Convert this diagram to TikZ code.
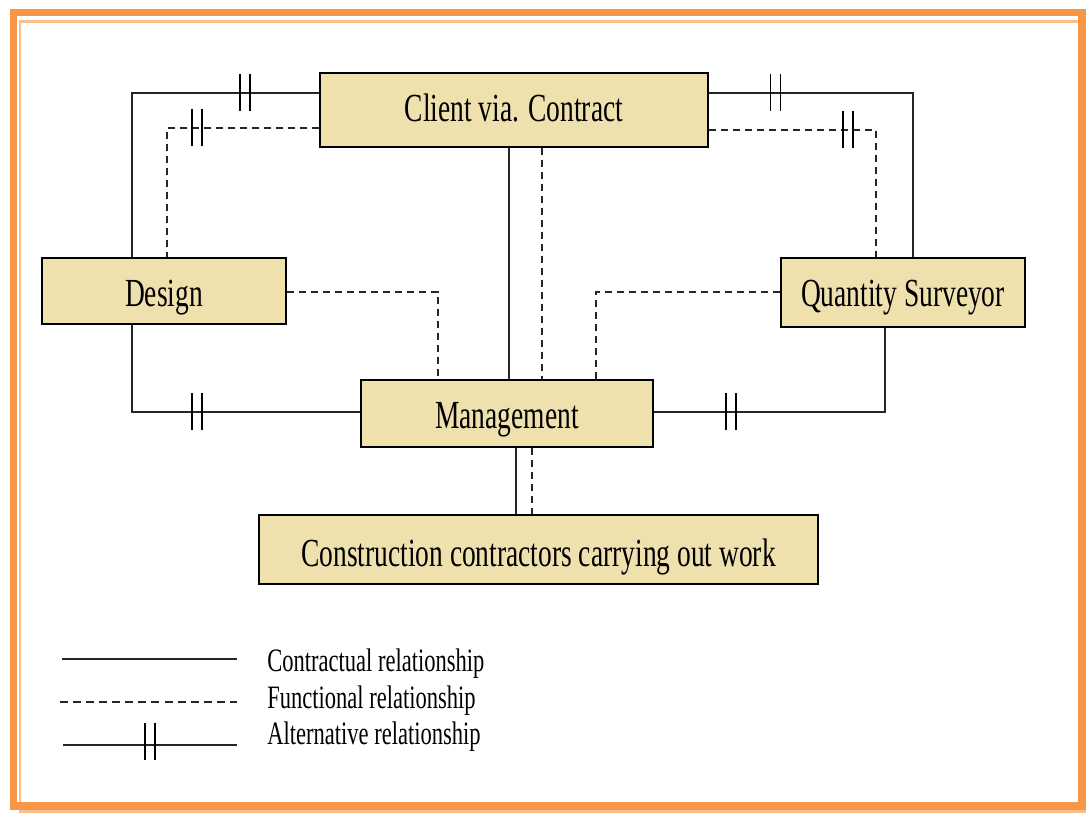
\documentclass[tikz,border=0pt]{standalone}
\usepackage{fontspec}
\setmainfont{Liberation Serif}
\usepackage{graphicx}
\definecolor{boxfill}{RGB}{239,225,174}
\definecolor{frameorange}{RGB}{247,150,70}
\definecolor{framelight}{RGB}{250,190,140}
% tall, narrow lettering, optionally lowered by #1
\newcommand{\tallText}[2][0pt]{\raisebox{-#1}{\scalebox{1}[1.45]{#2}}}
\begin{document}
\begin{tikzpicture}[x=0.75pt,y=-0.75pt,
  box/.style={draw=black, line width=1.1pt, fill=boxfill, inner sep=0pt,
    text height=20pt, text depth=5pt, font=\fontsize{20.6}{24}\selectfont},
  legendtext/.style={anchor=west, inner sep=0pt, text height=16pt, text depth=4pt,
    font=\fontsize{16.9}{20}\selectfont},
  rel/.style={draw=black!85, line width=1.1pt},
  fun/.style={rel, dash pattern=on 5.5pt off 3.5pt},
  pics/alt/.style={code={\draw[line width=1pt, black] (-5,-19) -- (-5,18) (5,-19) -- (5,18);}}
]
\useasboundingbox (0,0) rectangle (1086,814);
% double orange frame
\draw[framelight, line width=2pt] (20,21.5) rectangle (1085,811.5);
\draw[frameorange, line width=5.5pt] (13.5,12.5) rectangle (1082,806);

% boxes
\node[box, minimum width=388*0.75pt, minimum height=74*0.75pt] (client) at (514,110) {\tallText[0.9pt]{Client via. Contract}};
\node[box, minimum width=244*0.75pt, minimum height=66*0.75pt] (design) at (164,291) {\tallText[4.3pt]{Design}};
\node[box, minimum width=244*0.75pt, minimum height=69*0.75pt] (qs) at (903,292.5) {\tallText[3.2pt]{Quantity Surveyor}};
\node[box, minimum width=292*0.75pt, minimum height=67*0.75pt] (mgmt) at (507,413.5) {\tallText[3.9pt]{Management}};
\node[box, minimum width=559*0.75pt, minimum height=69*0.75pt] (constr) at (538.5,549.5) {\tallText[5pt]{Construction contractors carrying out work}};

% client to design
\draw[rel] (client.west |- 0,93) -| (132,0 |- design.north);
\pic at (245,93) {alt};
\draw[fun] (client.west |- 0,128) -| (167,0 |- design.north);
\pic at (197,128) {alt};

% client to quantity surveyor
\draw[rel] (client.east |- 0,93) -| (913,0 |- qs.north);
\pic at (775.5,93) {alt};
\draw[fun] (client.east |- 0,130) -| (876,0 |- qs.north);
\pic at (848,130) {alt};

% client to management
\draw[rel] (509,0 |- client.south) -- (509,0 |- mgmt.north);
\draw[fun] (542,0 |- client.south) -- (542,0 |- mgmt.north);

% design and quantity surveyor to management
\draw[fun] (design.east |- 0,292) -| (438,0 |- mgmt.north);
\draw[fun] (qs.west |- 0,292) -| (596,0 |- mgmt.north);
\draw[rel] (132,0 |- design.south) |- (mgmt.west |- 0,412);
\pic at (197,412) {alt};
\draw[rel] (885,0 |- qs.south) |- (mgmt.east |- 0,412);
\pic at (731,412) {alt};

% management to contractors
\draw[rel] (516,0 |- mgmt.south) -- (516,0 |- constr.north);
\draw[fun] (532,0 |- mgmt.south) -- (532,0 |- constr.north);

% legend
\coordinate (la1) at (62,659);  \coordinate (lb1) at (237,659);
\coordinate (la2) at (60,702);  \coordinate (lb2) at (237,702);
\coordinate (la3) at (63,745);  \coordinate (lb3) at (237,745);
\draw[rel] (la1) -- (lb1);
\draw[fun, dash pattern=on 6pt off 3.8pt] (la2) -- (lb2);
\draw[rel] (la3) -- (lb3);
\pic at (150,742) {alt};
\node[legendtext] (t1) at (267,661) {\tallText[2.1pt]{Contractual relationship}};
\node[legendtext] (t2) at (267,698) {\tallText[2.1pt]{Functional relationship}};
\node[legendtext] (t3) at (267,734) {\tallText[2.1pt]{Alternative relationship}};
\end{tikzpicture}
\end{document}
